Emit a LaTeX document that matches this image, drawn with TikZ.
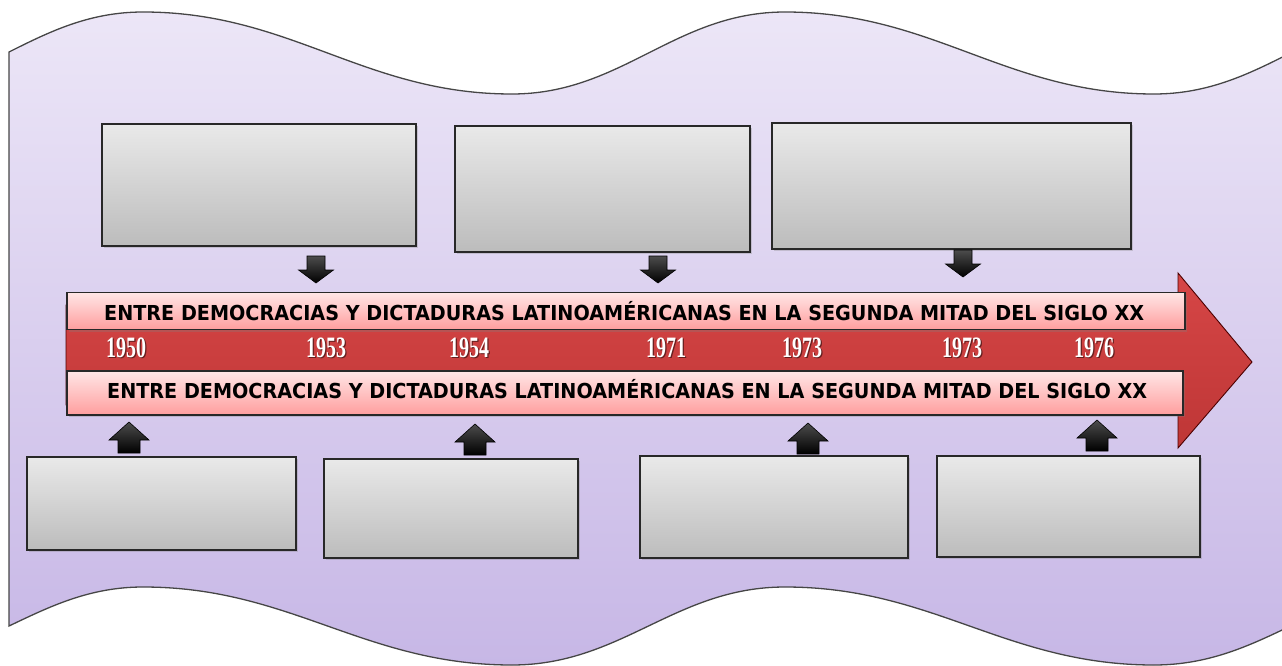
\documentclass[tikz,border=0pt]{standalone}
\usepackage{fontspec}
\setmainfont{DejaVu Sans}
\newfontfamily\yearfont{Liberation Serif}
\usetikzlibrary{shadows}
\definecolor{bgtop}{RGB}{236,230,247}
\definecolor{bgbot}{RGB}{199,183,230}
\definecolor{boxtop}{RGB}{233,233,233}
\definecolor{boxbot}{RGB}{188,188,188}
\definecolor{bandtop}{RGB}{255,230,230}
\definecolor{bandbot}{RGB}{255,158,158}
\definecolor{redtop}{RGB}{214,70,70}
\definecolor{redbot}{RGB}{190,54,54}
\definecolor{edge}{RGB}{40,40,40}
\definecolor{waveedge}{RGB}{70,70,70}
\tikzset{
  graybox/.style={draw=edge, line width=1.2pt, top color=boxtop, bottom color=boxbot,
    inner sep=0pt, drop shadow={opacity=0.3, shadow xshift=1.5pt, shadow yshift=-2pt}},
  bandbox/.style={draw=edge, line width=1.2pt, top color=bandtop, bottom color=bandbot,
    inner sep=0pt, drop shadow={opacity=0.3, shadow xshift=1.5pt, shadow yshift=-2pt}},
  blockarr/.style={top color=black!70, bottom color=black, draw=black, line width=0.6pt},
  bandtext/.style={anchor=base west, inner sep=0pt},
  yeartext/.style={anchor=base west, inner sep=0pt, text=white},
  yearshadow/.style={anchor=base west, inner sep=0pt, text=black, opacity=0.5},
  pics/downarr/.style={code={\draw[blockarr] (-9,0) -- (9,0) -- (9,14) -- (17.5,14) -- (0,27) -- (-17.5,14) -- (-9,14) -- cycle;}},
  pics/uparr/.style={code={\draw[blockarr] (0,0) -- (20,18) -- (11,18) -- (11,31) -- (-11,31) -- (-11,18) -- (-20,18) -- cycle;}},
}
\newcommand{\bandline}{\resizebox{1040pt}{\height}{\fontsize{20.6}{24}\selectfont\bfseries ENTRE DEMOCRACIAS Y DICTADURAS LATINOAMÉRICANAS EN LA SEGUNDA MITAD DEL SIGLO XX}}
\newcommand{\yr}[1]{\resizebox{40pt}{\height}{\yearfont\fontsize{29.6}{32}\selectfont\bfseries #1}}
\begin{document}
\begin{tikzpicture}[x=1pt,y=-1pt]
\useasboundingbox (0,0) rectangle (1282,666);
\clip (0,0) rectangle (1282,666);
% background wavy banner
\draw[draw=waveedge, line width=1.3pt, top color=bgtop, bottom color=bgbot]
  (9,52) .. controls (49,32) and (89,12) .. (143,12)
  .. controls (291,12) and (364,94) .. (512,94)
  .. controls (622,94) and (675,12) .. (785,12)
  .. controls (933,12) and (1006,94) .. (1154,94)
  .. controls (1264,94) and (1317,12) .. (1427,12)
  -- (1427,587)
  .. controls (1317,587) and (1264,665) .. (1154,665)
  .. controls (1006,665) and (933,587) .. (785,587)
  .. controls (675,587) and (622,665) .. (512,665)
  .. controls (364,665) and (291,587) .. (143,587)
  .. controls (89,587) and (49,607) .. (9,626) -- cycle;
% top boxes
\node[graybox, minimum width=314pt, minimum height=122pt] (b1) at (259,185) {};
\node[graybox, minimum width=295pt, minimum height=126pt] (b2) at (602.5,189) {};
\node[graybox, minimum width=359pt, minimum height=126pt] (b3) at (951.5,186) {};
% bottom boxes
\node[graybox, minimum width=269pt, minimum height=93pt] (b4) at (161.5,503.5) {};
\node[graybox, minimum width=254pt, minimum height=99pt] (b5) at (451,508.5) {};
\node[graybox, minimum width=268pt, minimum height=102pt] (b6) at (774,507) {};
\node[graybox, minimum width=263pt, minimum height=101pt] (b7) at (1068.5,506.5) {};
% down arrows
\pic (d1) at (316,256) {downarr};
\pic (d2) at (658,256) {downarr};
\pic (d3) at (963,250) {downarr};
% up arrows
\pic (u1) at (129,422) {uparr};
\pic (u2) at (475,424) {uparr};
\pic (u3) at (808,423) {uparr};
\pic (u4) at (1097,420) {uparr};
% big red arrow
\draw[draw=red!30!black, line width=0.9pt, top color=redtop, bottom color=redbot]
  (66,305) -- (1178,305) -- (1178,273) -- (1252,362) -- (1178,448) -- (1178,405) -- (66,405) -- cycle;
% pink bands
\node[bandbox, minimum width=1118pt, minimum height=37pt] (bt) at (626,311) {};
\node[bandbox, minimum width=1116pt, minimum height=44pt] (bb) at (625,393) {};
\node[bandtext] (t1) at (104,320) {\bandline};
\node[bandtext] (t2) at (107,398) {\bandline};
% years
\foreach \x/\y [count=\i] in {106/1950,306/1953,449/1954,646/1971,782/1973,942/1973,1074/1976}{
  \node[yearshadow] (ys\i) at (\x+1.2,358.7) {\yr{\y}};
  \node[yeartext] (y\i) at (\x,357.5) {\yr{\y}};
}
\end{tikzpicture}
\end{document}
